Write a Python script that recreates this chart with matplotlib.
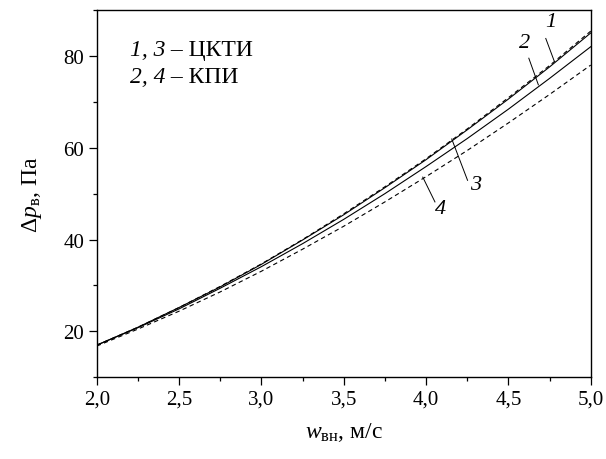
import matplotlib.pyplot as plt
from matplotlib.ticker import MultipleLocator

plt.rcParams['font.family'] = 'Liberation Serif'
plt.rcParams['mathtext.fontset'] = 'custom'
plt.rcParams['mathtext.rm'] = 'Liberation Serif'
plt.rcParams['mathtext.it'] = 'Liberation Serif:italic'

# speed, m/s
w = [2.0, 2.25, 2.5, 2.75, 3.0, 3.25, 3.5, 3.75, 4.0, 4.25, 4.5, 4.75, 5.0]
# pressure drop, Pa
dp1 = [17.0, 20.9, 25.2, 29.8, 34.7, 40.0, 45.6, 51.5, 57.6, 64.1, 70.9, 77.9, 85.4]
dp2 = [17.0, 20.9, 25.2, 29.7, 34.6, 39.9, 45.4, 51.3, 57.4, 63.9, 70.6, 77.6, 85.0]
dp3 = [17.0, 20.8, 24.9, 29.4, 34.1, 39.1, 44.4, 50.0, 55.9, 62.0, 68.4, 75.1, 82.0]
dp4 = [16.8, 20.5, 24.4, 28.6, 33.1, 37.9, 42.9, 48.2, 53.7, 59.4, 65.4, 71.6, 78.0]

xticks = [2.0, 2.5, 3.0, 3.5, 4.0, 4.5, 5.0]
xlabels = ['2,0', '2,5', '3,0', '3,5', '4,0', '4,5', '5,0']
yticks = [20, 40, 60, 80]

fig = plt.figure(figsize=(6.06, 4.6), dpi=100)
ax = fig.add_axes([0.1596, 0.1776, 0.8152, 0.7985])

dash = (0, (4, 3))
ax.plot(w, dp1, color='black', lw=0.8, linestyle=dash)
ax.plot(w, dp2, color='black', lw=0.8)
ax.plot(w, dp3, color='black', lw=0.8)
ax.plot(w, dp4, color='black', lw=0.8, linestyle=dash)

# curve labels with leader lines
ax.plot([4.727, 4.777], [83.8, 79.0], color='black', lw=0.7)
ax.text(4.755, 87.4, '1', style='italic', fontsize=16, ha='center', va='center')
ax.plot([4.624, 4.682], [79.5, 73.7], color='black', lw=0.7)
ax.text(4.60, 83.0, '2', style='italic', fontsize=16, ha='center', va='center')
ax.plot([4.156, 4.252], [61.9, 52.9], color='black', lw=0.7)
ax.text(4.30, 52.0, '3', style='italic', fontsize=16, ha='center', va='center')
ax.plot([3.98, 4.054], [53.6, 48.2], color='black', lw=0.7)
ax.text(4.085, 46.8, '4', style='italic', fontsize=16, ha='center', va='center')

# legend made of text pieces: italic numbers, upright names
fig.canvas.draw()
r = fig.canvas.get_renderer()
for yy, nums, name in [(0.893, '1, 3', ' – ЦКТИ'), (0.818, '2, 4', ' – КПИ')]:
    t = ax.text(0.067, yy, nums, style='italic', transform=ax.transAxes,
                fontsize=17, va='center')
    bb = t.get_window_extent(renderer=r)
    x1 = ax.transAxes.inverted().transform((bb.x1, bb.y0))[0]
    ax.text(x1, yy, name, transform=ax.transAxes, fontsize=17, va='center')

ax.set_xlim(2.0, 5.0)
ax.set_ylim(10, 90)
ax.set_xticks(xticks)
ax.set_xticklabels(xlabels)
ax.set_yticks(yticks)
ax.xaxis.set_minor_locator(MultipleLocator(0.25))
ax.yaxis.set_minor_locator(MultipleLocator(10))
ax.tick_params(which='major', direction='out', length=5.5, width=0.9, labelsize=15,
               top=False, right=False)
ax.tick_params(which='minor', direction='out', length=3, width=0.9, top=False, right=False)
for s in ax.spines.values():
    s.set_linewidth(1.0)

ax.set_xlabel('$w_{\\mathrm{вн}}$, м/с', fontsize=17, labelpad=8)
ax.set_ylabel('Δ$p_{\\mathrm{в}}$, Па', fontsize=17, labelpad=14)

plt.savefig('out.png', dpi=100)
